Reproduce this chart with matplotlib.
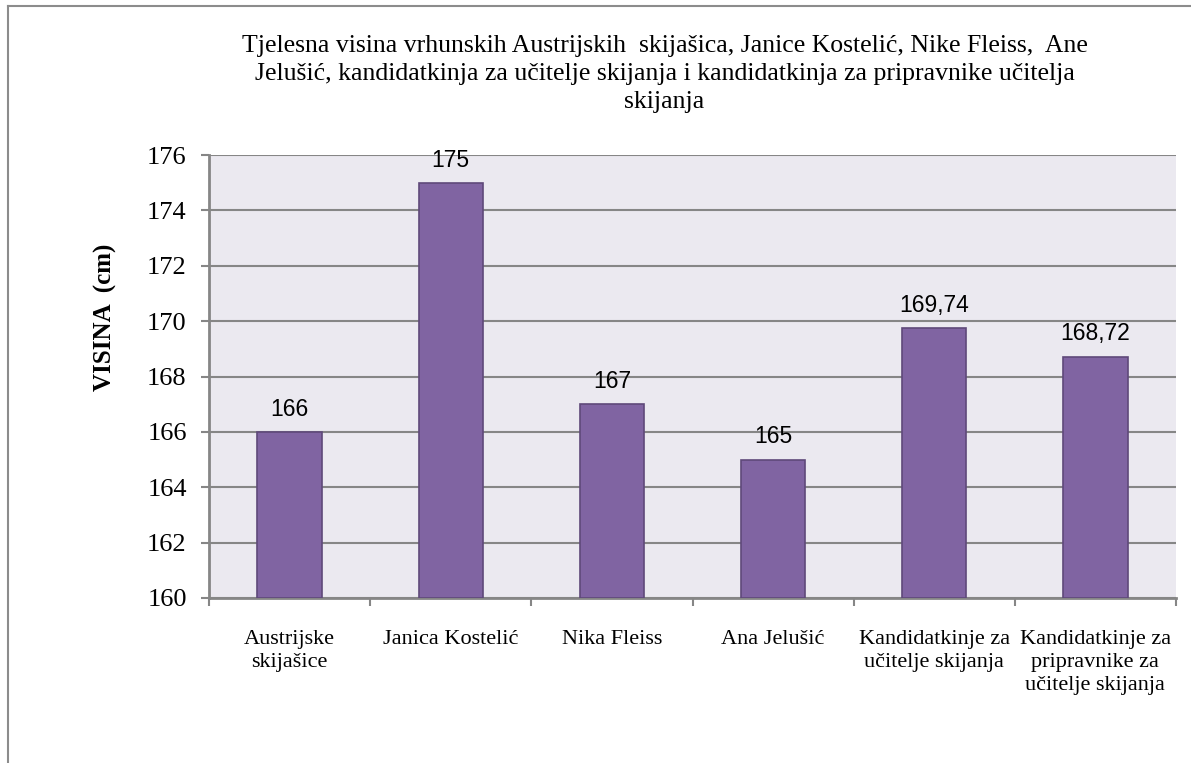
import matplotlib.pyplot as plt
from matplotlib.lines import Line2D

categories = ["Austrijske\nskijašice", "Janica Kostelić", "Nika Fleiss", "Ana Jelušić",
              "Kandidatkinje za\nučitelje skijanja", "Kandidatkinje za\npripravnike za\nučitelje skijanja"]
heights = [166, 175, 167, 165, 169.74, 168.72]
value_labels = ["166", "175", "167", "165", "169,74", "168,72"]
y_ticks = [160, 162, 164, 166, 168, 170, 172, 174, 176]

title = ("Tjelesna visina vrhunskih Austrijskih  skijašica, Janice Kostelić, Nike Fleiss,  Ane\n"
         "Jelušić, kandidatkinja za učitelje skijanja i kandidatkinja za pripravnike učitelja\n"
         "skijanja")

serif = "Liberation Serif"
grey = "#868686"

fig = plt.figure(figsize=(11.91, 7.63), dpi=100)
ax = fig.add_axes([209 / 1191, 1 - 598 / 763, (1176 - 209) / 1191, (598 - 155) / 763])
ax.set_facecolor("#EBE9F0")

x = list(range(len(categories)))
ax.bar(x, [h - 160 for h in heights], bottom=160, width=0.4,
       color="#8064A2", edgecolor="#5F497A", linewidth=1.2, zorder=3)

for xi, h, lab in zip(x, heights, value_labels):
    ax.annotate(lab, (xi, h), xytext=(0, 8), textcoords="offset points",
                ha="center", va="bottom", fontsize=16.5, family="Liberation Sans", zorder=4)

ax.set_ylim(160, 176)
ax.set_xlim(-0.5, len(categories) - 0.5)
ax.set_yticks(y_ticks)
ax.set_yticklabels([str(t) for t in y_ticks], fontsize=19, family=serif)
ax.yaxis.grid(True, color=grey, linewidth=1.5, zorder=0)
ax.set_axisbelow(True)
ax.tick_params(axis="y", direction="out", length=6, width=1.5, color=grey, pad=10)

ax.set_xticks(x)
ax.set_xticklabels(categories, fontsize=16, family=serif, linespacing=1.3)
ax.tick_params(axis="x", which="major", length=0, pad=23)
ax.set_xticks([i - 0.5 for i in range(len(categories) + 1)], minor=True)
ax.tick_params(axis="x", which="minor", direction="out", length=6, width=1.5, color=grey)

for s in ["top", "right"]:
    ax.spines[s].set_visible(False)
for s in ["left", "bottom"]:
    ax.spines[s].set_color(grey)
    ax.spines[s].set_linewidth(2)

fig.text(105 / 1191, 1 - 317 / 763, "VISINA  (cm)", rotation=90, ha="center", va="center",
         fontsize=18, family=serif, fontweight="bold")

fig.text(0.558, 1 - 35 / 763, title, ha="center", va="top", fontsize=18.5,
         family=serif, linespacing=1.35)

# outer chart border (only left and top edges fall inside the image)
fig.add_artist(Line2D([8 / 1191, 8 / 1191], [0, 1 - 6 / 763], transform=fig.transFigure,
                      color="#8C8C8C", linewidth=1.5))
fig.add_artist(Line2D([8 / 1191, 1], [1 - 6 / 763, 1 - 6 / 763], transform=fig.transFigure,
                      color="#8C8C8C", linewidth=1.5))

fig.savefig("out.png", dpi=100)
